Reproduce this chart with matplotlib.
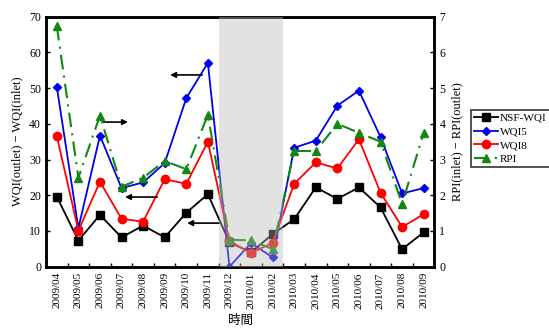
import matplotlib
matplotlib.use("Agg")
import matplotlib.pyplot as plt
import numpy as np

months = ["2009/04", "2009/05", "2009/06", "2009/07", "2009/08", "2009/09",
          "2009/10", "2009/11", "2009/12", "2010/01", "2010/02", "2010/03",
          "2010/04", "2010/05", "2010/06", "2010/07", "2010/08", "2010/09"]
nsf_wqi = [19.6, 7.3, 14.5, 8.2, 11.5, 8.2, 15.1, 20.3, 6.8, 4.0, 9.1, 13.3,
           22.2, 19.0, 22.2, 16.6, 4.9, 9.6]
wqi5 = [50.4, 10.8, 36.7, 22.0, 23.6, 29.0, 47.2, 57.1, 0.0, 6.6, 2.6, 33.3,
        35.3, 45.1, 49.3, 36.3, 20.5, 22.0]
wqi8 = [36.6, 10.1, 23.8, 13.4, 12.6, 24.5, 23.2, 35.0, 7.2, 3.8, 6.7, 23.2,
        29.2, 27.5, 35.7, 20.7, 11.1, 14.7]
rpi = [6.74, 2.49, 4.23, 2.24, 2.49, 2.96, 2.73, 4.25, 0.75, 0.74, 0.49, 3.24,
       3.24, 4.00, 3.75, 3.50, 1.76, 3.75]

plt.rcParams['font.family'] = ['Liberation Serif', 'Noto Sans CJK TC']

fig = plt.figure(figsize=(5.49, 3.28), dpi=100)
ax = fig.add_axes([0.0838, 0.187, 0.7076, 0.762])
ax2 = ax.twinx()

x = np.arange(len(months))
l1, = ax.plot(x, nsf_wqi, color='black', marker='s', markersize=5.5, lw=1.3, label='NSF-WQI')
l2, = ax.plot(x, wqi5, color='#0000ee', marker='D', markersize=4, lw=1.3, label='WQI5')
l3, = ax.plot(x, wqi8, color='#ff0000', marker='o', markersize=6, lw=1.3, label='WQI8')
l4, = ax2.plot(x, rpi, color='#118811', marker='^', markersize=6, lw=1.5,
               ls=(0, (7, 3, 1, 3)), label='RPI')

ax2.axvspan(7.5, 10.5, color='#b8b8b8', alpha=0.4, lw=0, zorder=5)

ax.set_xlim(-0.5, len(months) - 0.5)
ax.set_ylim(0, 70)
ax2.set_ylim(0, 7)
ax.set_yticks(np.arange(0, 71, 10))
ax2.set_yticks(np.arange(0, 8, 1))
ax.set_xticks(x)
ax.set_xticklabels(months, rotation=90, fontsize=8)
ax.set_xticks(x[:-1] + 0.5, minor=True)
ax.tick_params(axis='x', which='major', length=0, pad=4)
ax.tick_params(axis='x', which='minor', direction='in', length=3, width=1)
ax.tick_params(axis='y', direction='in', length=3, width=1, labelsize=8.5, colors='black')
ax2.tick_params(axis='y', direction='in', length=3, width=1, labelsize=8.5)
for a in (ax, ax2):
    for s in a.spines.values():
        s.set_linewidth(1.8)

ax.set_ylabel('WQI(outlet) − WQI(inlet)', fontsize=9)
ax2.set_ylabel('RPI(inlet) − RPI(outlet)', fontsize=9)
ax.set_xlabel('時間', fontsize=9, family=['Noto Sans CJK TC'])

arrows = [((6.74, 53.7), (5.25, 53.7)), ((2.14, 40.5), (3.30, 40.5)),
          ((4.65, 19.5), (3.16, 19.5)), ((7.52, 12.2), (6.04, 12.2))]
for tail, head in arrows:
    ax.annotate('', xy=head, xytext=tail,
                arrowprops=dict(arrowstyle='-|>', color='black', lw=1.2,
                                mutation_scale=8, shrinkA=0, shrinkB=0))

leg = fig.legend(handles=[l1, l2, l3, l4], loc='upper left',
                 bbox_to_anchor=(0.858, 0.665), fontsize=8, frameon=True,
                 fancybox=False, edgecolor='black', handlelength=2.1,
                 borderpad=0.3, labelspacing=0.35, handletextpad=0.2,
                 borderaxespad=0)
leg.get_frame().set_linewidth(1.2)

fig.savefig('out.png', dpi=100)
